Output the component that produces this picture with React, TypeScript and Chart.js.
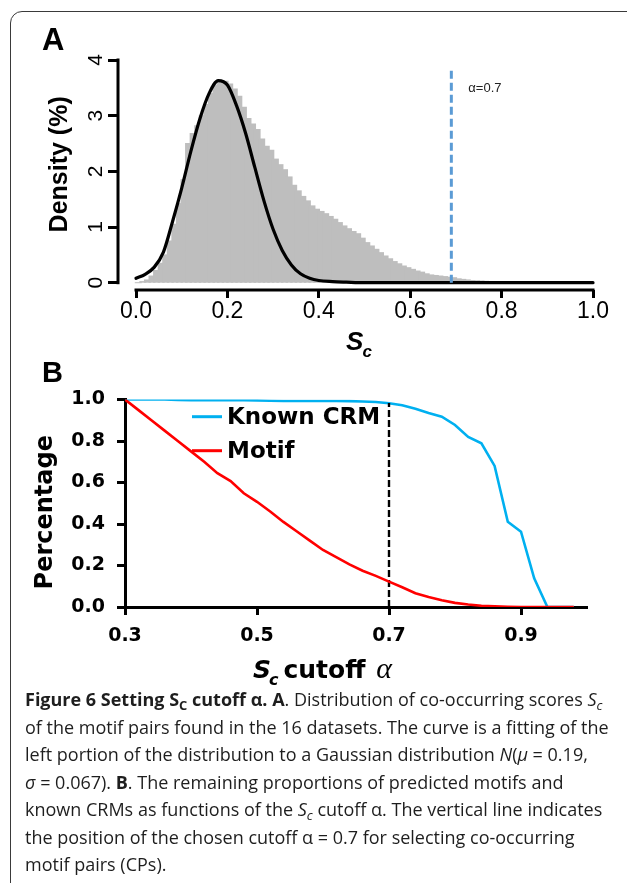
import React, { useEffect, useRef } from 'react';
import { Chart, registerables } from 'chart.js';

Chart.register(...registerables);

// ---------- Panel A data ----------
const histBinCenter = [
  0.005, 0.015, 0.025, 0.035, 0.045, 0.055, 0.065, 0.075, 0.085, 0.095,
  0.105, 0.115, 0.125, 0.135, 0.145, 0.155, 0.165, 0.175, 0.185, 0.195,
  0.205, 0.215, 0.225, 0.235, 0.245, 0.255, 0.265, 0.275, 0.285, 0.295,
  0.305, 0.315, 0.325, 0.335, 0.345, 0.355, 0.365, 0.375, 0.385, 0.395,
  0.405, 0.415, 0.425, 0.435, 0.445, 0.455, 0.465, 0.475, 0.485, 0.495,
  0.505, 0.515, 0.525, 0.535, 0.545, 0.555, 0.565, 0.575, 0.585, 0.595,
  0.605, 0.615, 0.625, 0.635, 0.645, 0.655, 0.665, 0.675, 0.685, 0.695,
  0.705, 0.715, 0.725, 0.735, 0.745, 0.755, 0.765, 0.775, 0.785, 0.795,
];
const histDensity = [
  0.00, 0.02, 0.05, 0.12, 0.22, 0.35, 0.50, 0.75, 1.05, 1.42,
  1.85, 2.50, 2.68, 2.82, 3.00, 3.20, 3.40, 3.55, 3.63, 3.62,
  3.57, 3.48, 3.35, 3.15, 2.95, 2.85, 2.75, 2.58, 2.45, 2.38,
  2.22, 2.12, 2.03, 1.90, 1.75, 1.65, 1.55, 1.47, 1.38, 1.32,
  1.28, 1.24, 1.19, 1.14, 1.08, 1.02, 0.97, 0.92, 0.88, 0.80,
  0.72, 0.66, 0.60, 0.54, 0.48, 0.43, 0.38, 0.34, 0.30, 0.27,
  0.24, 0.21, 0.19, 0.16, 0.14, 0.13, 0.12, 0.11, 0.10, 0.09,
  0.07, 0.06, 0.05, 0.04, 0.035, 0.03, 0.025, 0.02, 0.015, 0.01,
];
const curveX = [
  0.00, 0.02, 0.04, 0.06, 0.08, 0.10, 0.12, 0.14, 0.16, 0.18,
  0.20, 0.22, 0.24, 0.26, 0.28, 0.30, 0.32, 0.34, 0.36, 0.38,
  0.40, 0.43, 0.46, 0.50, 0.60, 0.70, 0.80, 0.90, 1.00,
];
const curveY = [
  0.08, 0.15, 0.28, 0.55, 1.10, 1.70, 2.36, 2.95, 3.40, 3.63,
  3.55, 3.18, 2.68, 2.07, 1.47, 0.96, 0.58, 0.32, 0.16, 0.08,
  0.04, 0.02, 0.01, 0, 0, 0, 0, 0, 0,
];
const cutoffA = 0.69;
const cutoffATop = 3.86;
const cutoffALabel = 'α=0.7';
const aXTicks = [0, 0.2, 0.4, 0.6, 0.8, 1.0];
const aYTicks = [0, 1, 2, 3, 4];

// ---------- Panel B data ----------
const cutoffX = [
  0.30, 0.32, 0.34, 0.36, 0.38, 0.40, 0.42, 0.44, 0.46, 0.48,
  0.50, 0.52, 0.54, 0.56, 0.58, 0.60, 0.62, 0.64, 0.66, 0.68,
  0.70, 0.72, 0.74, 0.76, 0.78, 0.80, 0.82, 0.84, 0.86, 0.88,
  0.90, 0.92, 0.94, 0.96, 0.98,
];
const knownCRM = [
  1.0, 1.0, 1.0, 1.0, 0.998, 0.997, 0.997, 0.997, 0.997, 0.997,
  0.996, 0.994, 0.993, 0.993, 0.993, 0.993, 0.993, 0.992, 0.990, 0.988,
  0.982, 0.972, 0.955, 0.935, 0.917, 0.877, 0.820, 0.789, 0.680, 0.411,
  0.363, 0.138, 0.0, 0.0, 0.0,
];
const motif = [
  1.0, 0.95, 0.90, 0.85, 0.80, 0.75, 0.70, 0.645, 0.607, 0.548,
  0.507, 0.46, 0.41, 0.365, 0.32, 0.275, 0.24, 0.205, 0.175, 0.15,
  0.122, 0.095, 0.066, 0.048, 0.033, 0.02, 0.012, 0.006, 0.003, 0.001,
  0, 0, 0, 0, 0,
];
const seriesLabels = ['Known CRM', 'Motif'];
const cutoffB = 0.7;
const cutoffBTop = 0.983;
const bXTicks = [0.3, 0.5, 0.7, 0.9];
const bYTicks = [0, 0.2, 0.4, 0.6, 0.8, 1.0];

const FONT_ARIAL = '"Liberation Sans", Arial, sans-serif';
const FONT_NARROW = '"Liberation Sans Narrow", "Liberation Sans", Arial, sans-serif';
const FONT_DEJAVU = '"DejaVu Sans", sans-serif';
const FONT_SERIF = '"Liberation Serif", "Times New Roman", serif';

const panelAPlugin = {
  id: 'panelAExtras',
  afterDraw(chart: any) {
    const { ctx, chartArea } = chart;
    const x = chart.scales.x;
    const y = chart.scales.y;
    ctx.save();
    ctx.strokeStyle = '#000';
    ctx.lineWidth = 3;
    // R-style detached axes
    ctx.beginPath();
    ctx.moveTo(chartArea.left, y.getPixelForValue(aYTicks[0]) + 1.5);
    ctx.lineTo(chartArea.left, y.getPixelForValue(aYTicks[aYTicks.length - 1]) - 1.5);
    ctx.stroke();
    ctx.beginPath();
    ctx.moveTo(x.getPixelForValue(aXTicks[0]) - 1.5, chartArea.bottom);
    ctx.lineTo(x.getPixelForValue(aXTicks[aXTicks.length - 1]) + 1.5, chartArea.bottom);
    ctx.stroke();

    // rotated y tick labels
    ctx.fillStyle = '#000';
    ctx.font = `21px ${FONT_ARIAL}`;
    ctx.textAlign = 'center';
    ctx.textBaseline = 'middle';
    aYTicks.forEach((v) => {
      ctx.save();
      ctx.translate(chartArea.left - 22, y.getPixelForValue(v));
      ctx.rotate(-Math.PI / 2);
      ctx.fillText(String(v), 0, 0);
      ctx.restore();
    });

    // y title
    ctx.save();
    ctx.font = `bold 25px ${FONT_ARIAL}`;
    const midY = (y.getPixelForValue(aYTicks[0]) + y.getPixelForValue(aYTicks[aYTicks.length - 1])) / 2 - 7;
    ctx.translate(60, midY);
    ctx.rotate(-Math.PI / 2);
    ctx.fillText('Density (%)', 0, 0);
    ctx.restore();

    // x title S_c
    ctx.textAlign = 'left';
    ctx.textBaseline = 'alphabetic';
    const fMain = `italic bold 26px ${FONT_ARIAL}`;
    const fSub = `italic bold 17px ${FONT_ARIAL}`;
    ctx.font = fMain;
    const wS = ctx.measureText('S').width;
    ctx.font = fSub;
    const wc = ctx.measureText('c').width;
    const cx = x.getPixelForValue(0.5) - 5;
    const sx = cx - (wS + wc) / 2;
    const base = chartArea.bottom + 60;
    ctx.font = fMain;
    ctx.fillText('S', sx, base);
    ctx.font = fSub;
    ctx.fillText('c', sx + wS - 1, base + 7);

    // alpha label
    ctx.font = `13px ${FONT_ARIAL}`;
    ctx.fillStyle = '#222';
    ctx.fillText(cutoffALabel, x.getPixelForValue(cutoffA) + 17, y.getPixelForValue(3.42));
    ctx.restore();
  },
};

const panelBPlugin = {
  id: 'panelBExtras',
  afterDraw(chart: any) {
    const { ctx } = chart;
    const x = chart.scales.x;
    const y = chart.scales.y;
    ctx.save();
    ctx.fillStyle = '#000';

    // y title
    ctx.save();
    ctx.font = `bold 24px ${FONT_DEJAVU}`;
    ctx.textAlign = 'center';
    ctx.textBaseline = 'middle';
    ctx.translate(46, y.getPixelForValue(0.5) + 9);
    ctx.rotate(-Math.PI / 2);
    ctx.fillText('Percentage', 0, 0);
    ctx.restore();

    // x title: S_c cutoff α
    ctx.textAlign = 'left';
    ctx.textBaseline = 'alphabetic';
    const base = chart.chartArea.bottom + 71;
    let px = x.getPixelForValue(0.5) - 4;
    ctx.font = `italic bold 25px ${FONT_DEJAVU}`;
    ctx.fillText('S', px, base);
    px += ctx.measureText('S').width - 2;
    ctx.font = `italic bold 16px ${FONT_DEJAVU}`;
    ctx.fillText('c', px, base + 7);
    px += ctx.measureText('c').width + 5;
    ctx.font = `bold 25px ${FONT_DEJAVU}`;
    ctx.fillText('cutoff', px, base);
    px += ctx.measureText('cutoff ').width + 2;
    ctx.font = `italic 30px ${FONT_SERIF}`;
    ctx.fillText('α', px, base);

    // legend
    const legendRows = [56.7, 90.7];
    const ds = chart.data.datasets;
    ctx.font = `bold 23px ${FONT_DEJAVU}`;
    ctx.textBaseline = 'middle';
    [0, 1].forEach((i) => {
      const d = ds.find((s: any) => s.label === seriesLabels[i]);
      ctx.strokeStyle = d.borderColor;
      ctx.lineWidth = 3;
      ctx.beginPath();
      ctx.moveTo(192, legendRows[i]);
      ctx.lineTo(222, legendRows[i]);
      ctx.stroke();
      ctx.fillStyle = '#000';
      ctx.fillText(seriesLabels[i], 227, legendRows[i] + 1.5);
    });
    ctx.restore();
  },
};

export default function App() {
  const refA = useRef<HTMLCanvasElement | null>(null);
  const refB = useRef<HTMLCanvasElement | null>(null);

  useEffect(() => {
    const chartA = new Chart(refA.current as HTMLCanvasElement, {
      type: 'line',
      data: {
        datasets: [
          {
            label: 'cutoff',
            data: [{ x: cutoffA, y: 0 }, { x: cutoffA, y: cutoffATop }],
            borderColor: '#5B9BD5',
            borderWidth: 3,
            borderDash: [8, 4],
            pointRadius: 0,
            order: 0,
          },
          {
            label: 'Gaussian fit',
            data: curveX.map((v, i) => ({ x: v, y: curveY[i] })),
            borderColor: '#000',
            borderWidth: 3.2,
            pointRadius: 0,
            cubicInterpolationMode: 'monotone',
            borderCapStyle: 'round',
            order: 1,
          },
          {
            type: 'bar',
            label: 'Density',
            data: histBinCenter.map((v, i) => ({ x: v, y: histDensity[i] })),
            backgroundColor: '#BEBEBE',
            borderWidth: 0,
            barThickness: 6,
            inflateAmount: 0.5,
            order: 2,
          },
        ],
      } as any,
      options: {
        responsive: false,
        animation: false,
        devicePixelRatio: 1,
        layout: { padding: { left: 0, top: 60, right: 27, bottom: 0 } },
        plugins: { legend: { display: false }, tooltip: { enabled: false } },
        scales: {
          x: {
            type: 'linear',
            offset: false,
            min: -0.0394,
            max: 1.0153,
            afterBuildTicks: (s: any) => { s.ticks = aXTicks.map((v) => ({ value: v })); },
            afterFit: (s: any) => { s.height = 70; },
            border: { display: false },
            grid: { drawOnChartArea: false, drawTicks: true, tickLength: 8, tickWidth: 3, tickColor: '#000', offset: false },
            ticks: {
              color: '#000',
              font: { family: FONT_NARROW, size: 23 },
              padding: 0,
              maxRotation: 0,
              callback: (v: any) => Number(v).toFixed(1),
            },
          },
          y: {
            type: 'linear',
            min: -0.131,
            max: 4,
            afterBuildTicks: (s: any) => { s.ticks = aYTicks.map((v) => ({ value: v })); },
            afterFit: (s: any) => { s.width = 118; },
            border: { display: false },
            grid: { drawOnChartArea: false, drawTicks: true, tickLength: 10, tickWidth: 3, tickColor: '#000' },
            ticks: { display: false },
          },
        },
      } as any,
      plugins: [panelAPlugin],
    });

    const chartB = new Chart(refB.current as HTMLCanvasElement, {
      type: 'line',
      data: {
        datasets: [
          {
            label: seriesLabels[1],
            data: cutoffX.map((v, i) => ({ x: v, y: motif[i] })),
            borderColor: '#FF0000',
            borderWidth: 2.6,
            pointRadius: 0,
            tension: 0,
            order: 0,
          },
          {
            label: 'cutoff',
            data: [{ x: cutoffB, y: 0 }, { x: cutoffB, y: cutoffBTop }],
            borderColor: '#000',
            borderWidth: 2.4,
            borderDash: [7, 3],
            pointRadius: 0,
            order: 1,
          },
          {
            label: seriesLabels[0],
            data: cutoffX.map((v, i) => ({ x: v, y: knownCRM[i] })),
            borderColor: '#00B0F0',
            borderWidth: 2.6,
            pointRadius: 0,
            tension: 0,
            order: 2,
          },
        ],
      } as any,
      options: {
        responsive: false,
        animation: false,
        devicePixelRatio: 1,
        layout: { padding: { left: 0, top: 39.5, right: 40, bottom: 0 } },
        plugins: { legend: { display: false }, tooltip: { enabled: false } },
        scales: {
          x: {
            type: 'linear',
            min: 0.3,
            max: 1.0,
            afterBuildTicks: (s: any) => { s.ticks = bXTicks.map((v) => ({ value: v })); },
            afterFit: (s: any) => { s.height = 83; },
            border: { display: true, color: '#000', width: 3 },
            grid: { drawOnChartArea: false, drawTicks: true, tickLength: 8, tickWidth: 3, tickColor: '#000' },
            ticks: {
              color: '#000',
              font: { family: FONT_DEJAVU, size: 19, weight: 'bold' },
              padding: 10,
              maxRotation: 0,
              callback: (v: any) => Number(v).toFixed(1),
            },
          },
          y: {
            type: 'linear',
            min: 0,
            max: 1.0,
            afterBuildTicks: (s: any) => { s.ticks = bYTicks.map((v) => ({ value: v })); },
            afterFit: (s: any) => { s.width = 125; },
            border: { display: true, color: '#000', width: 3 },
            grid: { drawOnChartArea: false, drawTicks: true, tickLength: 8, tickWidth: 3, tickColor: '#000' },
            ticks: {
              color: '#000',
              font: { family: FONT_DEJAVU, size: 19, weight: 'bold' },
              padding: 12,
              callback: (v: any) => Number(v).toFixed(1),
            },
          },
        },
      } as any,
      plugins: [panelBPlugin],
    });

    return () => {
      chartA.destroy();
      chartB.destroy();
    };
  }, []);

  const sub = { fontSize: '0.72em', verticalAlign: '-0.3em', lineHeight: 0 } as React.CSSProperties;

  return (
    <div
      style={{
        position: 'absolute',
        left: 0,
        top: 0,
        width: 627,
        height: 883,
        overflow: 'hidden',
        background: '#fff',
      }}
    >
      <div
        style={{
          position: 'absolute',
          left: 10,
          top: 11,
          width: 660,
          height: 920,
          border: '1.5px solid #3a3a3a',
          borderRadius: 12,
          boxSizing: 'border-box',
        }}
      />
      <canvas ref={refA} width={627} height={360} style={{ position: 'absolute', left: 0, top: 0, width: 627, height: 360 }} />
      <canvas ref={refB} width={627} height={330} style={{ position: 'absolute', left: 0, top: 360, width: 627, height: 330 }} />
      <div style={{ position: 'absolute', left: 42, top: 24, font: `bold 31px ${FONT_ARIAL}`, lineHeight: 1 }}>A</div>
      <div style={{ position: 'absolute', left: 42, top: 358, font: `bold 29px ${FONT_ARIAL}`, lineHeight: 1 }}>B</div>
      <div
        style={{
          position: 'absolute',
          left: 25,
          top: 686,
          fontFamily: '"Open Sans", sans-serif',
          fontSize: 18,
          lineHeight: '27.5px',
          color: '#1e1e1e',
          whiteSpace: 'nowrap',
        }}
      >
        <div>
          <b>Figure 6 Setting S<sub style={sub}>C</sub> cutoff α. A</b>. Distribution of co-occurring scores <i>S<sub style={sub}>c</sub></i>
        </div>
        <div>of the motif pairs found in the 16 datasets. The curve is a fitting of the</div>
        <div>
          left portion of the distribution to a Gaussian distribution <i>N</i>(<i>μ</i> = 0.19,
        </div>
        <div>
          <i>σ</i> = 0.067). <b>B</b>. The remaining proportions of predicted motifs and
        </div>
        <div>
          known CRMs as functions of the <i>S<sub style={sub}>c</sub></i> cutoff α. The vertical line indicates
        </div>
        <div>the position of the chosen cutoff α = 0.7 for selecting co-occurring</div>
        <div>motif pairs (CPs).</div>
      </div>
    </div>
  );
}
